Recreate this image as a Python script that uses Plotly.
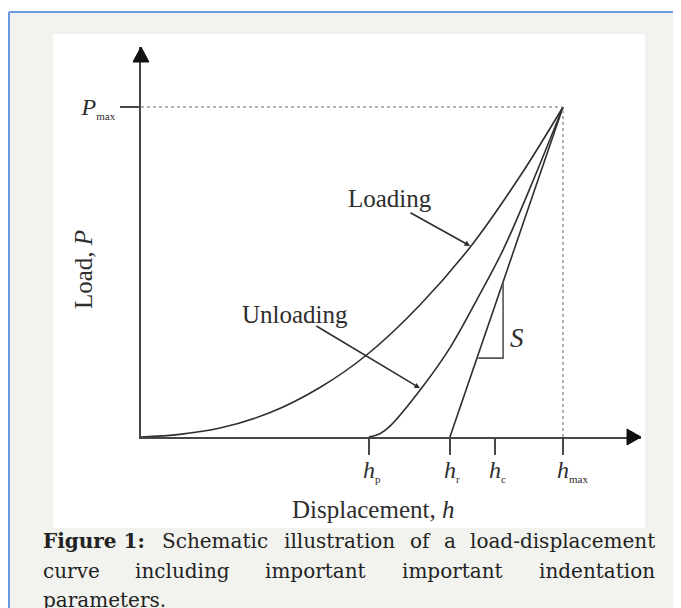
import plotly.graph_objects as go

loading_h = [0.0, 0.092, 0.187, 0.306, 0.424, 0.536, 0.661, 0.784, 0.898, 1.0]
loading_p = [0.0, 0.008, 0.027, 0.074, 0.150, 0.250, 0.400, 0.582, 0.790, 1.0]

unloading_h = [0.540, 0.566, 0.590, 0.666, 0.732, 0.803, 0.858, 0.922, 1.0]
unloading_p = [0.0, 0.010, 0.033, 0.150, 0.270, 0.433, 0.567, 0.755, 1.0]

tangent_h = [0.732, 1.0]
tangent_p = [0.0, 1.0]

# stiffness triangle S
slope_h = [0.799, 0.858, 0.858]
slope_p = [0.239, 0.239, 0.467]

mark_vals = [0.540, 0.732, 0.839, 1.0]
mark_text = ["h_p", "h_r", "h_c", "h_max"]
p_max = 1.0
h_max = 1.0

SERIF = "Liberation Serif"
INK = "#2e2e2e"
AXIS = "#474747"


def sub_label(name):
    base, sub = name.split("_")
    return ("<i>%s</i><sub><span style='font-size:11px'>%s</span></sub>" % (base, sub))


# page pixel -> paper coords (plot area is 500 x 390 px, origin at page pixel 141, 437)
def px(x):
    return (x - 141) / 500


def py(y):
    return (437 - y) / 390


line_style = dict(color=INK, width=1.6)
traces = [
    go.Scatter(x=loading_h, y=loading_p, mode="lines", line=dict(shape="spline", **line_style),
               name="Loading", hoverinfo="skip"),
    go.Scatter(x=unloading_h, y=unloading_p, mode="lines", line=dict(shape="spline", **line_style),
               name="Unloading", hoverinfo="skip"),
    go.Scatter(x=tangent_h, y=tangent_p, mode="lines", line=line_style, name="tangent",
               hoverinfo="skip"),
    go.Scatter(x=slope_h, y=slope_p, mode="lines", line=dict(color="#555", width=1.6),
               name="S", hoverinfo="skip"),
    go.Scatter(x=[0, h_max], y=[p_max, p_max], mode="lines",
               line=dict(color="#9a9a9a", width=1.5, dash="dot"), hoverinfo="skip"),
    go.Scatter(x=[h_max, h_max], y=[0, p_max], mode="lines",
               line=dict(color="#9a9a9a", width=1.5, dash="dot"), hoverinfo="skip"),
]

shapes = [
    # white strip above the page border
    dict(type="rect", xref="paper", yref="paper", x0=px(0), x1=px(700), y0=py(12), y1=py(0),
         fillcolor="white", line=dict(width=0), layer="below"),
    # white figure panel
    dict(type="rect", xref="paper", yref="paper", x0=px(53), x1=px(645), y0=py(528), y1=py(34),
         fillcolor="white", line=dict(width=0), layer="below"),
    # blue page border
    dict(type="line", xref="paper", yref="paper", x0=px(9), x1=px(700), y0=py(12), y1=py(12),
         line=dict(color="#6b9ae0", width=2)),
    dict(type="line", xref="paper", yref="paper", x0=px(9), x1=px(9), y0=py(12), y1=py(620),
         line=dict(color="#6b9ae0", width=2)),
    # axis arrowheads
    dict(type="path", xref="paper", yref="paper",
         path="M %f,%f L %f,%f L %f,%f Z" % (px(133), py(62), px(141), py(47), px(149), py(62)),
         fillcolor="#111", line=dict(color="#111", width=1)),
    dict(type="path", xref="paper", yref="paper",
         path="M %f,%f L %f,%f L %f,%f Z" % (px(627), py(429), px(641), py(437), px(627), py(445)),
         fillcolor="#111", line=dict(color="#111", width=1)),
]

annotations = [
    dict(x=0.780, y=0.579, ax=0.635, ay=0.682, xref="x", yref="y", axref="x", ayref="y",
         text="", showarrow=True, arrowhead=2, arrowsize=0.7, arrowwidth=1.6, arrowcolor=INK),
    dict(x=0.661, y=0.148, ax=0.412, ay=0.339, xref="x", yref="y", axref="x", ayref="y",
         text="", showarrow=True, arrowhead=2, arrowsize=0.7, arrowwidth=1.6, arrowcolor=INK),
    dict(x=0.590, y=0.724, xref="x", yref="y", text="Loading", showarrow=False,
         font=dict(family=SERIF, size=25, color=INK)),
    dict(x=0.365, y=0.370, xref="x", yref="y", text="Unloading", showarrow=False,
         font=dict(family=SERIF, size=25, color=INK)),
    dict(x=0.891, y=0.300, xref="x", yref="y", text="<i>S</i>", showarrow=False,
         font=dict(family=SERIF, size=27, color=INK)),
    dict(x=px(373), y=py(509), xref="paper", yref="paper", text="Displacement, <i>h</i>",
         showarrow=False, xanchor="center", yanchor="middle",
         font=dict(family=SERIF, size=25, color=INK)),
    dict(x=px(83), y=py(270), xref="paper", yref="paper", text="Load, <i>P</i>", textangle=-90,
         showarrow=False, xanchor="center", yanchor="middle",
         font=dict(family=SERIF, size=25, color=INK)),
]

# tick labels under the displacement axis
for val, name in zip(mark_vals, mark_text):
    annotations.append(dict(x=val, y=py(471), xref="x", yref="paper", text=sub_label(name),
                            showarrow=False, xanchor="left", yanchor="middle", xshift=-8,
                            font=dict(family=SERIF, size=24, color=INK)))

# justified caption, one annotation per word
CAP = "DejaVu Serif"
caption_lines = [
    (541, [("<b>Figure 1:</b>", 41, "left"), ("Schematic", 160, "left"),
           ("illustration", 282, "left"), ("of", 408, "left"), ("a", 442, "left"),
           ("load-displacement", 657, "right")]),
    (571, [("curve", 41, "left"), ("including", 133, "left"), ("important", 263, "left"),
           ("important", 400, "left"), ("indentation", 657, "right")]),
    (600, [("parameters.", 41, "left")]),
]
for ypos, words in caption_lines:
    for word, xpos, anchor in words:
        annotations.append(dict(x=px(xpos), y=py(ypos), xref="paper", yref="paper",
                                text=word, showarrow=False, xanchor=anchor, yanchor="middle",
                                font=dict(family=CAP, size=20, color="#222")))

layout = go.Layout(
    width=681, height=608,
    margin=dict(l=133, r=48, t=39, b=179),
    paper_bgcolor="#f2f3ee",
    plot_bgcolor="white",
    showlegend=False,
    xaxis=dict(range=[0, 1.1848], showgrid=False, zeroline=False, showline=True,
               linecolor=AXIS, linewidth=2, ticks="outside", ticklen=16, tickwidth=2,
               tickcolor=AXIS, tickvals=mark_vals, showticklabels=False, fixedrange=True),
    yaxis=dict(range=[0, 1.1818], showgrid=False, zeroline=False, showline=True,
               linecolor=AXIS, linewidth=2, ticks="outside", ticklen=19, tickwidth=2,
               tickcolor=AXIS, tickvals=[p_max], ticktext=[sub_label("P_max")],
               tickfont=dict(family=SERIF, size=24, color=INK), fixedrange=True),
    shapes=shapes,
    annotations=annotations,
)

fig = go.Figure(data=traces, layout=layout)
fig.write_html("out.html")
